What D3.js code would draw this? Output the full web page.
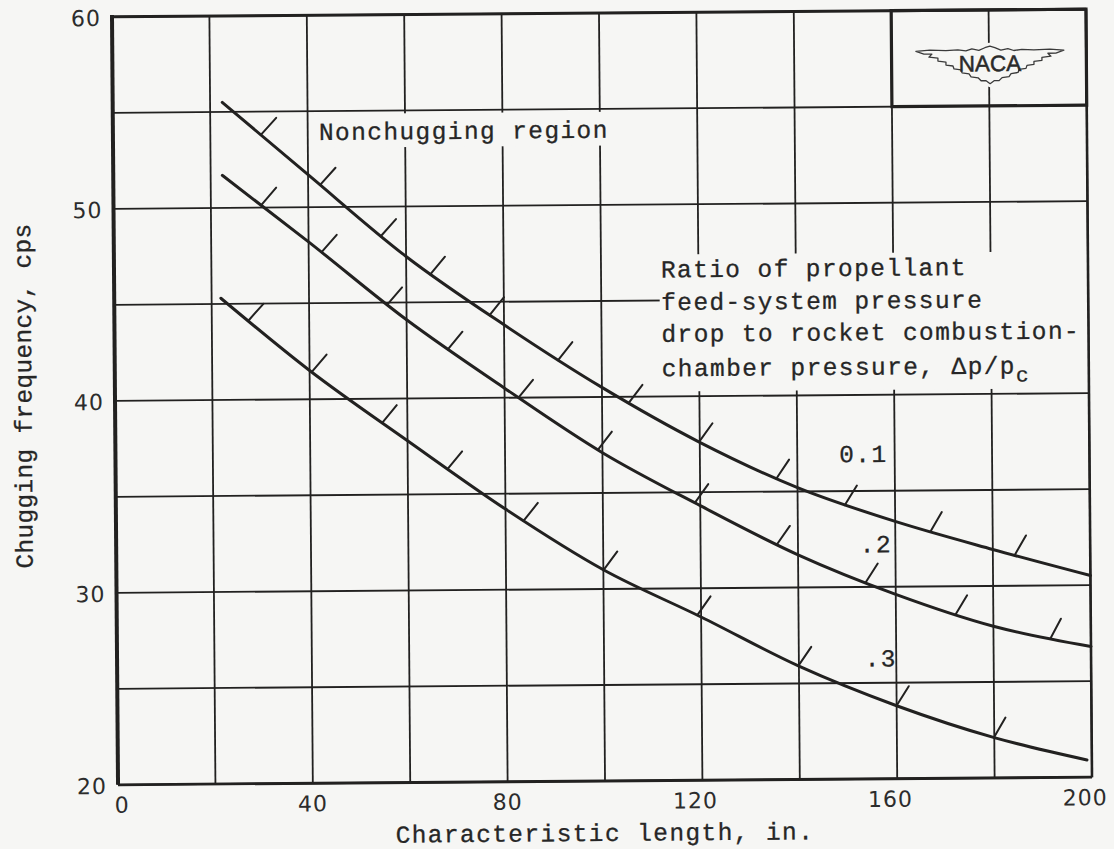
<!DOCTYPE html>
<html>
<head>
<meta charset="utf-8">
<script src="https://cdn.jsdelivr.net/npm/d3@7/dist/d3.min.js"></script>
<style>
  html, body { margin: 0; padding: 0; background: #f6f6f4; }
  svg { display: block; }
</style>
</head>
<body>
<svg id="chart" width="1114" height="849"></svg>
<script>
// Boundary curves: chugging frequency (cps) against characteristic length (in.)
const length01 = [22.5, 40, 60, 80, 100, 120, 140, 160, 180, 200];
const freq01   = [55.5, 51.7, 47.4, 43.8, 40.5, 37.6, 35.2, 33.4, 31.9, 30.5];
const length02 = [22.4, 40, 60, 80, 100, 120, 140, 160, 180, 200];
const freq02   = [51.7, 48.2, 44.1, 40.5, 37.1, 34.3, 31.7, 29.6, 27.9, 26.8];
const length03 = [21.9, 40, 60, 80, 100, 120, 140, 160, 180, 199];
const freq03   = [45.3, 41.5, 37.8, 34.2, 31.0, 28.5, 25.9, 23.8, 22.1, 20.9];

// Hatch marks on the nonchugging side of each boundary (characteristic length, in.)
const hatch01 = [30.3, 42.4, 54.8, 64.9, 77.0, 91.0, 105.4, 119.8, 135.6, 149.6, 167.1, 184.4];
const hatch02 = [30.3, 42.6, 56.0, 68.4, 82.8, 99.0, 118.8, 135.6, 153.7, 172.1, 191.6];
const hatch03 = [27.4, 40.4, 54.8, 68.1, 83.6, 100.0, 119.2, 139.8, 159.9, 179.9];

const ratioLabels = ["0.1", ".2", ".3"];
const xTickValues = [0, 40, 80, 120, 160, 200];
const yTickValues = [20, 30, 40, 50, 60];
const xGridValues = [0, 20, 40, 60, 80, 100, 120, 140, 160, 180, 200];
const yGridValues = [20, 25, 30, 35, 40, 45, 50, 55, 60];
const legendLines = ["Ratio of propellant", "feed-system pressure",
                     "drop to rocket combustion-", "chamber pressure, \u0394p/p"];

const INK = "#222120";
const PAPER = "#f6f6f4";
const MONO = "'Liberation Mono', 'DejaVu Sans Mono', monospace";
const LETTER = "'DejaVu Sans', 'Liberation Sans', sans-serif";

const plot = { left: 115, right: 1089, top: 13, bottom: 781 };
const x = d3.scaleLinear().domain([0, 200]).range([plot.left, plot.right]);
const y = d3.scaleLinear().domain([20, 60]).range([plot.bottom, plot.top]);

const svg = d3.select("#chart");
svg.append("rect").attr("width", 1114).attr("height", 849).attr("fill", PAPER);

// whole sheet sits slightly turned
const g = svg.append("g").attr("transform", "rotate(-0.45, 601, 397)");

// grid
const grid = g.append("g").attr("stroke", INK).attr("stroke-width", 1.8);
grid.selectAll("line.v").data(xGridValues).join("line")
  .attr("class", "v")
  .attr("x1", d => x(d)).attr("x2", d => x(d))
  .attr("y1", y(20)).attr("y2", y(60));
grid.selectAll("line.h").data(yGridValues).join("line")
  .attr("class", "h")
  .attr("x1", x(0)).attr("x2", x(200))
  .attr("y1", d => y(d)).attr("y2", d => y(d));

// clear patches behind the lettering
const masks = g.append("g").attr("fill", PAPER);
masks.append("rect")
  .attr("x", x(112)).attr("y", y(47.4))
  .attr("width", x(200) - x(112)).attr("height", y(40.26) - y(47.4));
masks.append("rect")
  .attr("x", x(41.5)).attr("y", y(54.85))
  .attr("width", x(102.5) - x(41.5)).attr("height", y(53.1) - y(54.85));

// frame
const frame = g.append("g").attr("stroke", INK).attr("fill", "none");
frame.append("line").attr("x1", x(0)).attr("x2", x(0)).attr("y1", y(20)).attr("y2", y(60.1))
  .attr("stroke-width", 4);
frame.append("line").attr("x1", x(0)).attr("x2", x(200)).attr("y1", y(20)).attr("y2", y(20))
  .attr("stroke-width", 2.8);
frame.append("line").attr("x1", x(0)).attr("x2", x(200)).attr("y1", y(60)).attr("y2", y(60))
  .attr("stroke-width", 3);
frame.append("line").attr("x1", x(200)).attr("x2", x(200)).attr("y1", y(20)).attr("y2", y(60))
  .attr("stroke-width", 2.6);
// emblem cell
frame.append("rect")
  .attr("x", x(160)).attr("y", y(60))
  .attr("width", x(200) - x(160)).attr("height", y(55) - y(60))
  .attr("stroke-width", 3.2);

// NACA wing emblem
const emblem = g.append("g")
  .attr("transform", `translate(${x(180.2)},${y(57.2)})`);
const wing = "M-74,-13 L-60,-14 L-44,-13.5 L-32,-14 L-24,-13 L-18,-15 L-11,-13.5 L-5,-16 L0,-17.5 " +
  "L5,-16 L11,-13.5 L18,-15 L24,-13 L32,-14 L44,-13.5 L60,-14 L74,-13 " +
  "L66,-10 L58,-10 L61,-7 L52,-6 L52,-3 L44,-2 L44,1 L37,2 L36,5 L29,6 L28,9 L21,10 L19,13 L12,14 L9,17 L4,17 L0,20 " +
  "L-4,17 L-9,17 L-12,14 L-19,13 L-21,10 L-28,9 L-29,6 L-36,5 L-37,2 L-44,1 L-44,-2 L-52,-3 L-52,-6 L-61,-7 L-58,-10 L-66,-10 Z";
emblem.append("path").attr("d", wing)
  .attr("fill", PAPER).attr("stroke", PAPER).attr("stroke-width", 7).attr("stroke-linejoin", "round");
emblem.append("path").attr("d", wing)
  .attr("fill", PAPER).attr("stroke", "#3a3a3a").attr("stroke-width", 1.3).attr("stroke-linejoin", "round");
emblem.append("text")
  .attr("x", 0).attr("y", 7.5)
  .attr("text-anchor", "middle")
  .attr("font-family", "'Liberation Sans', 'DejaVu Sans', sans-serif")
  .attr("font-size", 22.5)
  .attr("fill", "#2a2a2a").attr("stroke", "#2a2a2a").attr("stroke-width", 0.5)
  .text("NACA");

// boundary curves
const series = [
  { lengths: length01, freqs: freq01, hatches: hatch01 },
  { lengths: length02, freqs: freq02, hatches: hatch02 },
  { lengths: length03, freqs: freq03, hatches: hatch03 }
];
const line = d3.line().x(d => x(d[0])).y(d => y(d[1])).curve(d3.curveMonotoneX);
const curves = g.append("g").attr("fill", "none").attr("stroke", INK);

series.forEach(s => {
  const pts = s.lengths.map((L, i) => [L, s.freqs[i]]);
  const path = curves.append("path").attr("d", line(pts))
    .attr("stroke-width", 3).attr("stroke-linecap", "round");

  // sample the drawn curve so hatches sit on it
  const node = path.node();
  const total = node.getTotalLength();
  const samples = [];
  for (let t = 0; t <= total; t += 0.5) samples.push(node.getPointAtLength(t));

  s.hatches.forEach(h => {
    const px = x(h);
    let i = samples.findIndex(p => p.x >= px);
    if (i < 0) i = samples.length - 1;
    const a = samples[Math.max(0, i - 6)], b = samples[Math.min(samples.length - 1, i + 6)];
    const descent = Math.atan2(b.y - a.y, b.x - a.x) * 180 / Math.PI;
    const ang = (24 + 0.48 * (90 - descent)) * Math.PI / 180;
    const len = 23;
    const p = samples[i];
    curves.append("line")
      .attr("x1", p.x).attr("y1", p.y)
      .attr("x2", p.x + len * Math.cos(ang)).attr("y2", p.y - len * Math.sin(ang))
      .attr("stroke-width", 2).attr("stroke-linecap", "round");
  });
});

// typed lettering
const typed = g.append("g")
  .attr("font-family", MONO).attr("font-size", 24.5)
  .attr("letter-spacing", 1.4).attr("fill", "#262626")
  .attr("stroke", "#262626").attr("stroke-width", 0.3);

typed.append("text").attr("x", x(42.3)).attr("y", y(53.5)).text("Nonchugging region");

const legendY = [46.2, 44.5, 42.85, 41.05];
legendLines.forEach((t, i) => {
  const tx = typed.append("text").attr("x", x(112.3)).attr("y", y(legendY[i])).text(t);
  if (i === legendLines.length - 1) {
    tx.append("tspan").attr("dy", 8).attr("font-size", 21).text("c");
  }
});

const ratioPos = [[148.6, 36.5], [152.7, 31.8], [153.5, 25.85]];
ratioLabels.forEach((t, i) => {
  typed.append("text").attr("x", x(ratioPos[i][0])).attr("y", y(ratioPos[i][1])).text(t);
});

// axis titles
typed.append("text")
  .attr("x", 601.5).attr("y", 841)
  .attr("text-anchor", "middle")
  .text("Characteristic length, in.");
typed.append("text")
  .attr("transform", "translate(31.5,391.5) rotate(-90)")
  .attr("text-anchor", "middle")
  .attr("letter-spacing", 0.3)
  .text("Chugging frequency, cps");

// tick labels
const ticks = g.append("g")
  .attr("font-family", LETTER).attr("font-size", 22)
  .attr("letter-spacing", 1).attr("fill", "#2c2c2c");
ticks.selectAll("text.y").data(yTickValues).join("text")
  .attr("class", "y")
  .attr("x", plot.left - 11)
  .attr("y", d => y(d) + 1.5)
  .attr("text-anchor", "end")
  .attr("dominant-baseline", "central")
  .text(d => d);
ticks.selectAll("text.x").data(xTickValues).join("text")
  .attr("class", "x")
  .attr("x", d => x(d) + (d >= 100 ? -7 : (d === 0 ? 4 : 0)))
  .attr("y", plot.bottom + 28)
  .attr("text-anchor", "middle")
  .text(d => d);
</script>
</body>
</html>
